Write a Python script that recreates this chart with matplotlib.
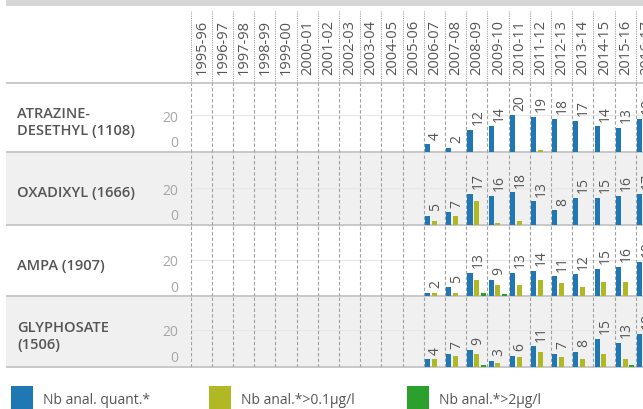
import matplotlib
matplotlib.use("Agg")
import matplotlib.pyplot as plt
from matplotlib.patches import Rectangle
from matplotlib.transforms import offset_copy

# ----------------------------------------------------------------------
# data: number of analyses per season (nothing before 2006-07)
# ----------------------------------------------------------------------
seasons = [
    "1995-96", "1996-97", "1997-98", "1998-99", "1999-00", "2000-01",
    "2001-02", "2002-03", "2003-04", "2004-05", "2005-06", "2006-07",
    "2007-08", "2008-09", "2009-10", "2010-11", "2011-12", "2012-13",
    "2013-14", "2014-15", "2015-16", "2016-17",
]
compounds = ["ATRAZINE-\nDESETHYL (1108)", "OXADIXYL (1666)", "AMPA (1907)", "GLYPHOSATE\n(1506)"]
series_names = ["Nb anal. quant.*", "Nb anal.*>0.1µg/l", "Nb anal.*>2µg/l"]

atrazine_quant = [0, 0, 0, 0, 0, 0, 0, 0, 0, 0, 0, 4, 2, 12, 14, 20, 19, 18, 17, 14, 13, 18]
atrazine_01 = [0, 0, 0, 0, 0, 0, 0, 0, 0, 0, 0, 0, 0, 0, 0, 0, 1, 0, 0, 0, 0, 0]
atrazine_2 = [0, 0, 0, 0, 0, 0, 0, 0, 0, 0, 0, 0, 0, 0, 0, 0, 0, 0, 0, 0, 0, 0]

oxadixyl_quant = [0, 0, 0, 0, 0, 0, 0, 0, 0, 0, 0, 5, 7, 17, 16, 18, 13, 8, 15, 15, 16, 17]
oxadixyl_01 = [0, 0, 0, 0, 0, 0, 0, 0, 0, 0, 0, 2, 5, 13, 1, 2, 0, 0, 0, 0, 0, 0]
oxadixyl_2 = [0, 0, 0, 0, 0, 0, 0, 0, 0, 0, 0, 0, 0, 0, 0, 0, 0, 0, 0, 0, 0, 0]

ampa_quant = [0, 0, 0, 0, 0, 0, 0, 0, 0, 0, 0, 2, 5, 13, 9, 13, 14, 11, 12, 15, 16, 19]
ampa_01 = [0, 0, 0, 0, 0, 0, 0, 0, 0, 0, 0, 2, 2, 9, 6, 6, 9, 7, 5, 8, 8, 9]
ampa_2 = [0, 0, 0, 0, 0, 0, 0, 0, 0, 0, 0, 0, 0, 2, 1, 0, 0, 0, 0, 0, 0, 0]

glyphosate_quant = [0, 0, 0, 0, 0, 0, 0, 0, 0, 0, 0, 4, 7, 9, 3, 6, 11, 7, 8, 15, 13, 18]
glyphosate_01 = [0, 0, 0, 0, 0, 0, 0, 0, 0, 0, 0, 4, 6, 7, 2, 5, 8, 5, 4, 7, 4, 8]
glyphosate_2 = [0, 0, 0, 0, 0, 0, 0, 0, 0, 0, 0, 0, 0, 1, 0, 0, 0, 0, 0, 0, 1, 0]

rows = [
    (atrazine_quant, atrazine_01, atrazine_2),
    (oxadixyl_quant, oxadixyl_01, oxadixyl_2),
    (ampa_quant, ampa_01, ampa_2),
    (glyphosate_quant, glyphosate_01, glyphosate_2),
]

# ----------------------------------------------------------------------
# layout (pixels of the 643x410 canvas)
# ----------------------------------------------------------------------
W, H = 643, 410
COLORS = ["#1f77b4", "#b0b824", "#2ca02c"]
BAR_OFFSETS = [0.18, 0.50, 0.82]
BAR_W = 0.24
COL_X0 = 190.7          # left edge of first season column
COL_W = 21.19           # width of one season column
HEADER_TOP, HEADER_BOTTOM = 12, 84
ROW_EDGES = [84, 152.7, 226, 297.3, 367.5]
PX_PER_UNIT = 1.83
TEXT = "#555555"
TICK = "#a6a6a6"
LINE = "#c8c8c8"
VLINE = "#a0a0a0"

plt.rcParams["font.family"] = ["Open Sans", "DejaVu Sans"]

fig = plt.figure(figsize=(W / 100, H / 100), dpi=100)
fig.patch.set_facecolor("white")

# background canvas in pixel coordinates
bg = fig.add_axes([0, 0, 1, 1])
bg.set_xlim(0, W)
bg.set_ylim(H, 0)
bg.axis("off")

bg.add_patch(Rectangle((6, 0), W - 6, 7.3, facecolor="#d6d6d6", edgecolor="none"))
for i in range(len(compounds)):
    top, bottom = ROW_EDGES[i], ROW_EDGES[i + 1]
    if i % 2 == 1:
        bg.add_patch(Rectangle((6, top), W - 6, bottom - top, facecolor="#f0f0f0", edgecolor="none"))
    bg.text(17, (top + bottom) / 2 + 4, compounds[i], ha="left", va="center",
            fontsize=10.5, fontweight="semibold", color=TEXT, linespacing=1.3)
for y in ROW_EDGES:
    bg.plot([6, W], [y, y], color=LINE, lw=1.4, solid_capstyle="butt")

# legend along the bottom
for k, name in enumerate(series_names):
    x0 = 11 + k * 198
    bg.add_patch(Rectangle((x0, 387), 22, 23, facecolor=COLORS[k], edgecolor="none"))
    bg.text(x0 + 32, 401, name, ha="left", va="center", fontsize=10, color=TEXT)

xmax = (W - COL_X0) / COL_W
n_cols = len(seasons)

# season header
hdr = fig.add_axes([COL_X0 / W, 1 - HEADER_BOTTOM / H, (W - COL_X0) / W, (HEADER_BOTTOM - HEADER_TOP) / H])
hdr.set_xlim(0, xmax)
hdr.set_ylim(0, 1)
hdr.axis("off")
hdr.patch.set_alpha(0)
for i in range(n_cols + 1):
    hdr.axvline(i, color=VLINE, lw=0.8, ls=(0, (1, 1)))
for i, s in enumerate(seasons):
    hdr.text(i + 0.52, 9 / (HEADER_BOTTOM - HEADER_TOP), s, rotation=90, ha="center", va="bottom",
             fontsize=10.5, color=TEXT)

# one bar panel per compound
for r, series in enumerate(rows):
    top, bottom = ROW_EDGES[r], ROW_EDGES[r + 1]
    ax = fig.add_axes([COL_X0 / W, 1 - bottom / H, (W - COL_X0) / W, (bottom - top) / H])
    ax.patch.set_alpha(0)
    ax.set_xlim(0, xmax)
    ax.set_ylim(0, (bottom - top) / PX_PER_UNIT)
    for sp in ax.spines.values():
        sp.set_visible(False)
    ax.set_xticks([])
    ax.set_yticks([])

    ax.axhline(20, color="#e6e6e6", lw=0.8, zorder=0)
    for i in range(n_cols + 1):
        ax.axvline(i, color=VLINE, lw=0.8, ls=(0, (3, 2)), zorder=1)

    for k, vals in enumerate(series):
        xs = [i + BAR_OFFSETS[k] for i, v in enumerate(vals) if v > 0]
        hs = [v for v in vals if v > 0]
        ax.bar(xs, hs, width=BAR_W, color=COLORS[k], linewidth=0, zorder=2)

    # value labels above the quantified bars
    lab_tr = offset_copy(ax.transData, fig=fig, y=4, units="points")
    for i, v in enumerate(series[0]):
        if v > 0:
            ax.text(i + 0.55, v, str(v), transform=lab_tr, rotation=90, ha="center", va="bottom",
                    fontsize=10, color=TEXT, clip_on=False)

    # axis labels 20 / 0
    ytr = ax.get_yaxis_transform()
    ax.text(0, 20, "20", transform=offset_copy(ytr, fig=fig, x=-9, y=-1.5, units="points"),
            ha="right", va="center", fontsize=10, color=TICK)
    ax.text(0, 0, "0", transform=offset_copy(ytr, fig=fig, x=-9, y=6.5, units="points"),
            ha="right", va="center", fontsize=10, color=TICK)

fig.savefig("out.png", dpi=100, facecolor="white")
